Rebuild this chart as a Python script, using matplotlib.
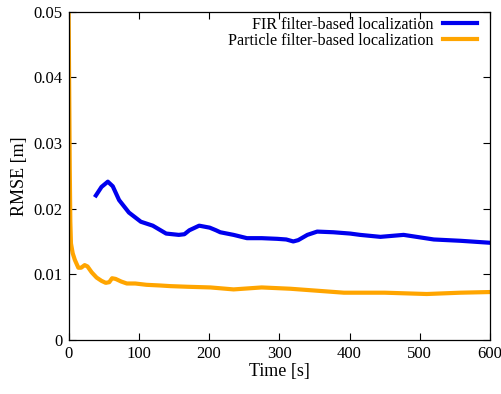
import numpy as np
import matplotlib
matplotlib.use('Agg')
import matplotlib.pyplot as plt
from matplotlib.ticker import FuncFormatter

plt.rcParams['font.family'] = 'Liberation Serif'
plt.rcParams['font.size'] = 12

# FIR filter-based localization
fir_t = [39, 47, 56, 63, 72, 86, 103, 120, 139, 157, 165, 172, 186, 201, 210, 216,
         235, 254, 275, 297, 310, 320, 327, 340, 354, 377, 401, 415, 444, 477,
         520, 558, 600]
fir_rmse = [0.0220, 0.0233, 0.0241, 0.0234, 0.0213, 0.0194, 0.0180, 0.0174, 0.0162,
            0.0160, 0.0161, 0.0167, 0.0174, 0.0171, 0.0167, 0.0164, 0.0160, 0.0155,
            0.0155, 0.0154, 0.0153, 0.0150, 0.0152, 0.0160, 0.0165, 0.0164, 0.0162,
            0.0160, 0.0157, 0.0160, 0.0153, 0.0151, 0.0148]

# Particle filter-based localization
pf_t = [0, 1, 1.8, 2.6, 3.5, 6, 9, 14, 18, 23, 27, 33, 40, 47, 53, 58, 62, 67,
        75, 83, 95, 111, 130, 145, 170, 202, 235, 275, 316, 354, 392, 415, 450,
        510, 558, 600]
pf_rmse = [0.052, 0.038, 0.026, 0.018, 0.0147, 0.0132, 0.0122, 0.0110, 0.0110,
           0.0114, 0.0112, 0.0103, 0.0095, 0.0090, 0.0087, 0.0088, 0.0094, 0.0093,
           0.0089, 0.0086, 0.0086, 0.0084, 0.0083, 0.0082, 0.0081, 0.0080, 0.0077,
           0.0080, 0.0078, 0.0075, 0.0072, 0.0072, 0.0072, 0.0070, 0.0072, 0.0073]

fig = plt.figure(figsize=(5.01, 3.94), dpi=100)
ax = fig.add_axes([68.5 / 501, 1 - 340 / 394, (490 - 68.5) / 501, (340 - 11.5) / 394])

ax.plot(fir_t, fir_rmse, color='#0000ee', lw=3, label='FIR filter-based localization')
ax.plot(pf_t, pf_rmse, color='#ffa500', lw=3, label='Particle filter-based localization')

ax.set_xlim(0, 600)
ax.set_ylim(0, 0.05)
ax.set_xticks(np.arange(0, 601, 100))
ax.set_yticks(np.arange(0, 0.051, 0.01))
ax.yaxis.set_major_formatter(FuncFormatter(lambda v, p: '0' if abs(v) < 1e-9 else f'{v:.2f}'))
ax.tick_params(direction='in', length=5, width=0.8, top=True, right=True, labelsize=12)
ax.tick_params(axis='y', pad=4.5)
ax.tick_params(axis='x', pad=4)
for s in ax.spines.values():
    s.set_linewidth(0.9)

ax.set_xlabel('Time [s]', fontsize=13, labelpad=1)
ax.set_ylabel('RMSE [m]', fontsize=13, labelpad=4)

ax.legend(loc='upper right', bbox_to_anchor=(0.9836, 1.003), frameon=False, markerfirst=False,
          fontsize=11.6, handlelength=2.1, handletextpad=0.6, labelspacing=0.0,
          borderaxespad=0.0)

fig.savefig('out.png', dpi=100)
